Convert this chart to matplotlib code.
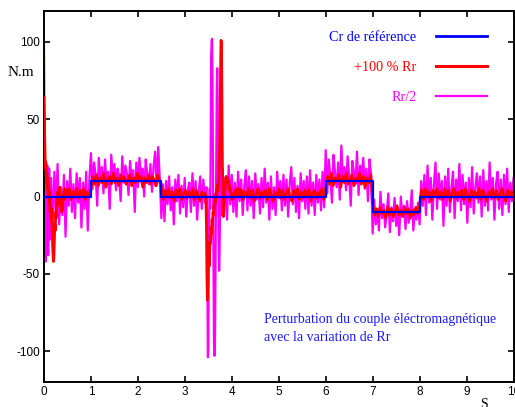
import numpy as np
import matplotlib
matplotlib.use("Agg")
import matplotlib.pyplot as plt
from matplotlib.lines import Line2D

plt.rcParams["axes.unicode_minus"] = False

# ---------------------------------------------------------------
# Reference electromagnetic torque (piecewise constant), N.m
# ---------------------------------------------------------------
ref_times = [0, 1, 2.5, 6, 7, 8, 10]
ref_levels = [0, 10, 0, 10, -10, 0]

# ---------------------------------------------------------------
# Torque with +100 % Rr, sampled segment by segment (t0, t1, values)
# ---------------------------------------------------------------
red_start = [64, 45, 30, 18, 22, 10, 15, 5, 12, 0,
             8, -5, 3, -10, -2, -15, -8, -20, -28, -36,
             -42, -40, -30, -18, -22, -10, -14, -2, -6, 3,
             -1, 5, 1, 6, 2, -3, -7, -10, -6, -9,
             -3, 1, -2, 4, 0, 5, 1, 3, -1, 4]
red_settle = [0, 5, -2, 3, 1, 5, -1, 4, 0, 5, -2, 3, 1]
red_step1 = [4, 13, 8, 14, 7, 12, 9, 15, 6, 11, 13, 8, 15, 9, 12, 7, 14, 10, 13,
             8, 11, 14, 7, 12, 9, 15, 10, 13, 6, 12, 9, 14, 8, 13, 11, 7, 14, 10]
red_zero1 = [6, -2, 4, 0, 5, -1, 3, -3, 4, 1, 5, -2, 2, 4, -1, 3, 0, 5, -2, 4,
             1, -3, 3, 0]
red_fault = [2, -3, -20, -50, -67, -55, -40, -30, -45, -35,
             -25, -30, -20, -24, -15, -18, -10, -12, -6, -8,
             -2, -4, 2, 0, 5, 3, 8, 6, 12, 18,
             30, 45, 80, 101, 100, 60, 20, -5, -13, -10,
             -4, 2, 8, 12, 13, 11, 12, 9, 10, 7,
             8, 4, 6, 2, 3, -1, 1, -2, 0, -1,
             2, 0, 3, 1, 4, 2, 5, 1, 3, 0,
             4, 1, 5, 2, 3, 0]
red_zero2 = [4, -2, 3, 0, 5, -1, 4, -3, 2, 5, -1, 3, 0, 4, -2, 5, 1, -3, 3, 0,
             5, -1, 4, -2, 2, 5, 0, -3, 4, 1, 5, -2, 3, -1, 4, 0, 5, -3, 2, 4,
             -1, 3, 0, 5, -2]
red_step2 = [5, 13, 8, 15, 7, 12, 10, 14, 6, 13, 9, 15, 8, 11, 14, 7, 12, 10,
             15, 8, 13, 6, 12, 9, 14]
red_neg = [-4, -12, -8, -13, -7, -11, -9, -14, -7, -12, -8, -13, -10, -6, -12,
           -9, -13, -7, -11, -8, -14, -9, -12, -7, -11]
red_zero3 = [-6, 4, -2, 5, 0, 3, -3, 4, 1, 5, -1, 3, -2, 5, 0, 4, -3, 2, 5, -1,
             3, 0, 4, -2, 5, 1, -3, 4, 0, 3, -1, 5, -2, 4, 1, -3, 3, 0, 5, -1,
             4, -2, 2, 5, 0, -3, 4, 1, 3, -1]

# ---------------------------------------------------------------
# Torque with Rr/2
# ---------------------------------------------------------------
mag_start = [97, 55, 5, -35, -42, -15, 10, 20, -20, -38, -5, 18]
mag_settle = [-28, 12, -22, 16, -8, 21, -18, 6, -12, 14, -26, 10, -6, 18, -10,
              8, -14, 15, -4, 12, -20, 9, -8, 16, -22, 11]
mag_step1 = [28, 5, 22, 14, -6, 25, 12, 19, 2, 24, 8, 16, -8, 27, 11, 21, 4, 18,
             13, -3, 26, 9, 20, 15, 1, 23, 10, 17, -10, 22, 6, 25, 12, 18, 0, 24,
             14, 8, 21, 3, 19, 29, 7, 32, 11]
mag_zero1 = [-14, 8, -16, 10, -5, 13, -9, 6, -18, 11, -3, 14, -11, 7, -7, 12,
             -13, 4, 9, -10, 15, -6, 10, -15, 3, 13, -8, 11, -4]
mag_fault = [6, -4, -50, -104, -100, -40, -10, 5, -8, 30,
             90, 101, 102, 70, 20, -40, -95, -103, -102, -60,
             -10, 30, 70, 83, 60, 10, -30, -48, -35, -5,
             15, 25, 5, -12]
mag_zero2 = [18, -8, 12, -15, 20, -5, 14, -10, 9, -13, 16, -3, 11, -12, 7, 17,
             -9, 13, -6, 10, -14, 15, -2, 8, -11, 12, -7, 18, -4, 9, -15, 13,
             -8, 6, -12, 16, -1, 10, -9, 14, -6, 11, -13, 8, 19, -5, 12, -10,
             7, -14, 15, -3, 10, -8, 13, -11, 17, -6, 9, -12, 14, -4, 11, -9,
             16, -7]
mag_step2 = [30, 2, 24, 12, -4, 27, 15, 6, 22, -2, 33, 10, 19, 4, 26, 13, -6,
             23, 16, 8, 29, 1, 20, 11, 25, 5, 18, -3, 24, 14]
mag_neg = [-24, -2, -18, -8, -22, 3, -14, -5, -20, -11, 2, -23, -7, -16, -1,
           -19, -9, -25, 0, -13, -6, -21, -3, -17, -10, 4, -22, -8, -15, -4]
mag_zero3 = [-18, 10, -6, 14, -12, 20, -4, 12, -15, 8, 22, -8, 15, -2, 10, -19,
             13, -6, 18, -10, 5, 16, -14, 11, -3, 21, -9, 14, -5, 9, -17, 12,
             -7, 19, -11, 6, 15, -4, 13, -13, 17, -6, 10, -9, 22, -2, 12, -15,
             8, 16, -8, 11, -12, 14, -5, 18, -10, 9, -3, 12]

red_segments = [(0.0, 0.5, red_start), (0.5, 1.0, red_settle),
                (1.0, 2.5, red_step1), (2.5, 3.44, red_zero1),
                (3.44, 4.2, red_fault), (4.2, 6.0, red_zero2),
                (6.0, 7.0, red_step2), (7.0, 8.0, red_neg),
                (8.0, 10.0, red_zero3)]
mag_segments = [(0.0, 0.12, mag_start), (0.12, 1.0, mag_settle),
                (1.0, 2.5, mag_step1), (2.5, 3.46, mag_zero1),
                (3.46, 3.8, mag_fault), (3.8, 6.0, mag_zero2),
                (6.0, 7.0, mag_step2), (7.0, 8.0, mag_neg),
                (8.0, 10.0, mag_zero3)]


def assemble(segments):
    """Give each segment's samples evenly spaced time stamps."""
    ts, ys = [], []
    last = len(segments) - 1
    for i, (t0, t1, vals) in enumerate(segments):
        ts.append(np.linspace(t0, t1, len(vals), endpoint=(i == last)))
        ys.append(np.asarray(vals, dtype=float))
    return np.concatenate(ts), np.concatenate(ys)


t_red, y_red = assemble(red_segments)
t_mag, y_mag = assemble(mag_segments)

BLUE = "#0000ff"
RED = "#ff0000"
MAGENTA = "#ff00ff"
SERIF = ["Liberation Serif", "DejaVu Serif"]
SANS = ["Liberation Sans", "DejaVu Sans"]

W, H = 515, 407
fig = plt.figure(figsize=(W / 100, H / 100), dpi=100)
ax = fig.add_axes([44 / W, 1 - 382 / H, (513.5 - 44) / W, (382 - 11) / H])

ax.plot(t_mag, y_mag, color=MAGENTA, lw=1.6, zorder=2)
ax.plot(t_red, y_red, color=RED, lw=2.0, zorder=3)
ax.step(ref_times, ref_levels + [ref_levels[-1]], where="post",
        color=BLUE, lw=1.6, zorder=4)

ax.set_xlim(0, 10)
ax.set_ylim(-120, 120)
ax.set_xticks(range(0, 11))
ax.set_yticks([-100, -50, 0, 50, 100])
ax.tick_params(direction="in", length=4.5, width=1.2, top=True, right=True,
               labelsize=8.5, colors="black", pad=3)
for lab in ax.get_xticklabels() + ax.get_yticklabels():
    lab.set_family(SANS)
for sp in ax.spines.values():
    sp.set_linewidth(1.4)

# Legend: labels right-aligned, line samples on the right
handles = [Line2D([], [], color=BLUE, lw=2.0),
           Line2D([], [], color=RED, lw=2.2),
           Line2D([], [], color=MAGENTA, lw=1.6)]
labels = ["Cr de référence", "+100 % Rr", "Rr/2"]
leg = ax.legend(handles, labels, loc="upper right",
                bbox_to_anchor=(0.944, 0.945), frameon=False,
                markerfirst=False, handlelength=3.6, handletextpad=1.4,
                labelspacing=1.18, borderpad=0, borderaxespad=0,
                prop={"family": SERIF, "size": 10.2})
for txt, c in zip(leg.get_texts(), [BLUE, RED, MAGENTA]):
    txt.set_color(c)

ax.text(0.4686, 0.145,
        "Perturbation du couple éléctromagnétique\navec la variation de Rr",
        transform=ax.transAxes, ha="left", va="center", color="#1a1aff",
        family=SERIF, fontsize=10, linespacing=1.5)

fig.text(8 / W, 1 - 73 / H, "N.m", family=SERIF, fontsize=11,
         ha="left", va="center", color="black")
fig.text(484 / W, 1 - 404 / H, "S", family=SERIF, fontsize=10,
         ha="center", va="center", color="black")

fig.savefig("out.png", dpi=100)
